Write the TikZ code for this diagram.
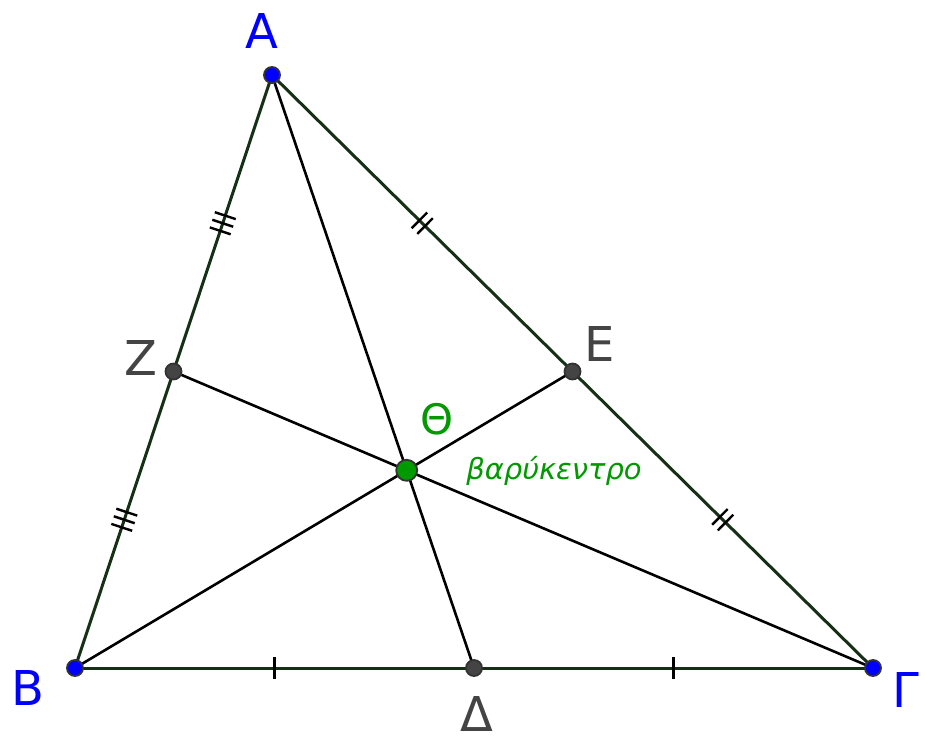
\documentclass[tikz,border=0pt]{standalone}
\usepackage{fontspec}
\setmainfont{DejaVu Sans}
\usetikzlibrary{decorations.markings}

\definecolor{ptblue}{RGB}{0,0,255}
\definecolor{ptgray}{RGB}{68,68,68}
\definecolor{ptgreen}{RGB}{0,153,0}
\definecolor{sidecol}{RGB}{22,48,22}

\begin{document}
\begin{tikzpicture}[
    x=1pt, y=-1pt,
    vertex/.style={circle, draw=black!80, line width=1.8pt, fill=ptblue, inner sep=0pt, minimum size=16pt},
    midpt/.style={circle, draw=black!80, line width=1.8pt, fill=ptgray, inner sep=0pt, minimum size=16pt},
    centroid/.style={circle, draw=black!80, line width=1.8pt, fill=ptgreen, inner sep=0pt, minimum size=21pt},
    side/.style={draw=sidecol, line width=3pt},
    median/.style={draw=black, line width=2.6pt},
    bluelabel/.style={text=ptblue, inner sep=0pt, font=\fontsize{48}{54}\selectfont},
    graylabel/.style={text=ptgray, inner sep=0pt, font=\fontsize{48}{54}\selectfont},
    tickone/.style={postaction={decorate, decoration={markings,
        mark=at position 0.5 with {\draw[black, line width=2.4pt] (0,-11) -- (0,11);}}}},
    ticktwo/.style={postaction={decorate, decoration={markings,
        mark=at position 0.5 with {\draw[black, line width=2.4pt] (-4,-11) -- (-4,11) (4,-11) -- (4,11);}}}},
    tickthree/.style={postaction={decorate, decoration={markings,
        mark=at position 0.5 with {\draw[black, line width=2.4pt] (-8,-11) -- (-8,11) (0,-11) -- (0,11) (8,-11) -- (8,11);}}}}
]
\useasboundingbox[fill=white] (0,0) rectangle (925,740);

% points
\coordinate (pA) at (272,75);
\coordinate (pB) at (75,668);
\coordinate (pG) at (873,668);
\coordinate (pZ) at (173.5,371.5);
\coordinate (pE) at (572.5,371.5);
\coordinate (pD) at (474,668);
\coordinate (pT) at (406.7,470.3);

% medians
\draw[median] (pA) -- (pD);
\draw[median] (pB) -- (pE);
\draw[median] (pG) -- (pZ);

% sides, with equal-part ticks
\draw[side, tickthree] (pA) -- (pZ);
\draw[side, tickthree] (pZ) -- (pB);
\draw[side, ticktwo] (pA) -- (pE);
\draw[side, ticktwo] (pE) -- (pG);
\draw[side, tickone] (pB) -- (pD);
\draw[side, tickone] (pD) -- (pG);

% dots
\node[vertex] (A) at (pA) {};
\node[vertex] (B) at (pB) {};
\node[vertex] (G) at (pG) {};
\node[midpt] (Z) at (pZ) {};
\node[midpt] (E) at (pE) {};
\node[midpt] (D) at (pD) {};
\node[centroid] (T) at (pT) {};

% labels
\node[bluelabel] (labA) at (262,31) {A};
\node[bluelabel] (labB) at (28,688) {B};
\node[bluelabel] (labG) at (906,690) {Γ};
\node[graylabel] (labZ) at (141,358) {Z};
\node[graylabel] (labE) at (600,344) {E};
\node[graylabel] (labD) at (477,714) {Δ};
\node[text=ptgreen, inner sep=0pt, font=\fontsize{42}{48}\selectfont] (labT) at (437,419) {Θ};
\node[text=ptgreen, inner sep=0pt, font=\fontsize{29}{34}\selectfont\itshape] (bary) at (554,471) {βαρύκεντρο};

\end{tikzpicture}
\end{document}
